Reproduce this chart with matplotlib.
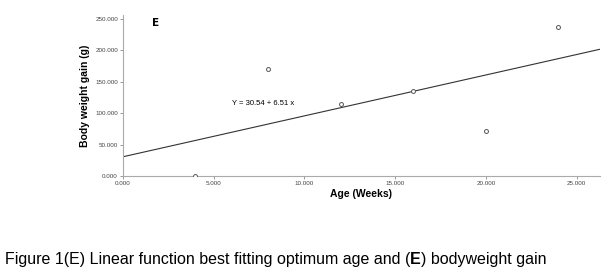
import numpy as np
import matplotlib.pyplot as plt

plt.rcParams['font.family'] = ['Liberation Sans', 'DejaVu Sans']

age = [4, 8, 12, 16, 20, 24]
gain = [0, 170, 114, 136, 72, 237]
intercept = 30.54
slope = 6.51
xticks = [0, 5, 10, 15, 20, 25]
yticks = [0, 50, 100, 150, 200, 250]

fig = plt.figure(figsize=(6.05, 2.75), dpi=100)
ax = fig.add_axes([0.203, 0.36, 0.789, 0.585])

ax.scatter(age, gain, s=8, facecolors='white', edgecolors='#555555', linewidths=0.7, zorder=3)
xl = np.array([0, 26.3])
ax.plot(xl, intercept + slope * xl, color='#333333', lw=0.8)

ax.set_xlim(0, 26.3)
ax.set_ylim(0, 256)
ax.set_xticks(xticks)
ax.set_yticks(yticks)
ax.set_xticklabels(['%.3f' % v for v in xticks], fontsize=4.5, color='#444444')
ax.set_yticklabels(['%.3f' % v for v in yticks], fontsize=4.5, color='#444444')
ax.tick_params(length=2.5, width=0.6, color='#888888', pad=1)
for s in ['top', 'right']:
    ax.spines[s].set_visible(False)
for s in ['left', 'bottom']:
    ax.spines[s].set_color('#aaaaaa')
    ax.spines[s].set_linewidth(0.8)

ax.set_xlabel('Age (Weeks)', fontsize=7.5, fontweight='bold', labelpad=2)
ax.set_ylabel('Body weight gain (g)', fontsize=7.5, fontweight='bold', labelpad=4)

ax.text(1.6, 244, 'E', fontsize=7.5, fontweight='bold', va='center',
        family=['DejaVu Sans'])
ax.text(6.0, 116, 'Y = %.2f + %.2f x' % (intercept, slope), fontsize=5.5, va='center')

# caption with a bold E in the middle
cap_y = 0.03
fs = 11.5
t = fig.text(0.008, cap_y, 'Figure 1(E) Linear function best fitting optimum age and (', fontsize=fs, va='bottom')
fig.canvas.draw()
x2 = t.get_window_extent().x1 / fig.bbox.width
t2 = fig.text(x2, cap_y, 'E', fontsize=fs, fontweight='bold', va='bottom')
fig.canvas.draw()
x3 = t2.get_window_extent().x1 / fig.bbox.width
fig.text(x3, cap_y, ') bodyweight gain', fontsize=fs, va='bottom')

fig.savefig('out.png', dpi=100)
